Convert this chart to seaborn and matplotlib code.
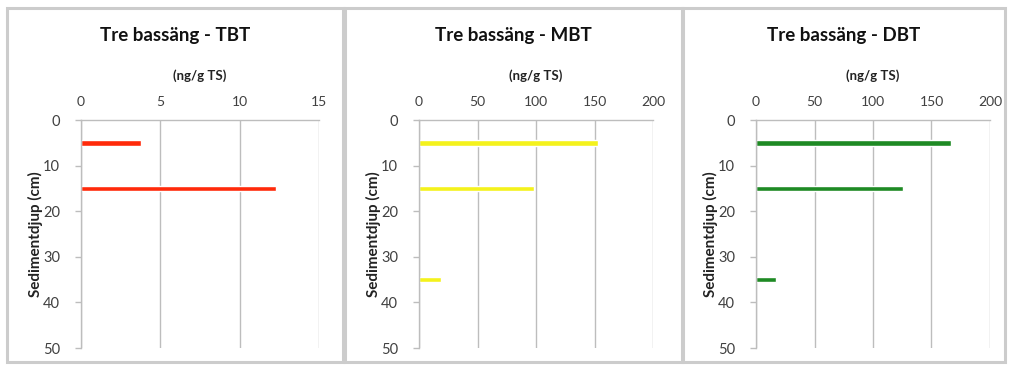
import matplotlib
matplotlib.use("Agg")
import matplotlib.pyplot as plt
from matplotlib.patches import Rectangle
import seaborn as sns
import pandas as pd

# Sediment depth (cm) and organotin concentrations (ng/g TS)
tbt_depth = [5, 15]
tbt_values = [3.75, 12.3]
mbt_depth = [5, 15, 35]
mbt_values = [153, 98.5, 19]
dbt_depth = [5, 15, 35]
dbt_values = [167, 126, 17]

titles = ["Tre bassäng - TBT", "Tre bassäng - MBT", "Tre bassäng - DBT"]
x_ticks = [[0, 5, 10, 15], [0, 50, 100, 150, 200], [0, 50, 100, 150, 200]]
y_ticks = [0, 10, 20, 30, 40, 50]
bar_colors = ["#FF2A0A", "#F4F21C", "#1E8A24"]
unit_label = "(ng/g TS)"
depth_label = "Sedimentdjup (cm)"

sns.set_theme(style="white")
plt.rcParams["font.family"] = ["Lato", "DejaVu Sans"]

W, H = 1009, 369
fig = plt.figure(figsize=(W / 100, H / 100), dpi=100)

# panel frames (pixel extents) and axes extents
frames = [(7, 343), (345, 682), (683, 1005)]
axes_x = [(81, 319), (419, 653), (756, 990)]
ax_top, ax_bot = 120, 348

series = [(tbt_depth, tbt_values), (mbt_depth, mbt_values), (dbt_depth, dbt_values)]
grid_col = "#BDBDBD"
text_col = "#404040"

for i, ((d, v), (x0, x1), (f0, f1)) in enumerate(zip(series, axes_x, frames)):
    # outer panel frame
    fig.patches.append(Rectangle((f0 / W, 1 - 362 / H), (f1 - f0) / W, (362 - 8) / H,
                                 transform=fig.transFigure, fill=False,
                                 edgecolor="#CCCCCC", linewidth=2.2))
    ax = fig.add_axes([x0 / W, 1 - ax_bot / H, (x1 - x0) / W, (ax_bot - ax_top) / H])
    df = pd.DataFrame({"depth": d, "value": v})
    sns.barplot(data=df, x="value", y="depth", orient="h", native_scale=True,
                width=0.12, color=bar_colors[i], saturation=1, ax=ax)
    ax.set_xlim(x_ticks[i][0], x_ticks[i][-1])
    ax.set_ylim(50, 0)
    ax.set_xticks(x_ticks[i])
    ax.set_yticks(y_ticks)
    ax.xaxis.tick_top()
    ax.xaxis.set_label_position("top")
    ax.tick_params(axis="x", length=0, pad=9, labelsize=10, labelcolor=text_col)
    ax.tick_params(axis="y", left=True, length=4, width=1, color=grid_col,
                   pad=11, labelsize=10.5, labelcolor=text_col)
    ax.grid(axis="x", color=grid_col, linewidth=1)
    ax.set_axisbelow(True)
    for s in ["right", "bottom"]:
        ax.spines[s].set_visible(False)
    for s in ["left", "top"]:
        ax.spines[s].set_color(grid_col)
        ax.spines[s].set_linewidth(1)
    ax.set_xlabel(unit_label, fontsize=9.5, fontweight="bold", color="#222222", labelpad=11)
    ax.set_ylabel(depth_label, fontsize=11, fontweight="bold", color="#222222", labelpad=0)
    fig.text((f0 + f1) / 2 / W, 1 - 35 / H, titles[i], ha="center", va="center",
             fontsize=13.5, fontweight="bold", color="#111111")

fig.savefig("out.png", dpi=100)
